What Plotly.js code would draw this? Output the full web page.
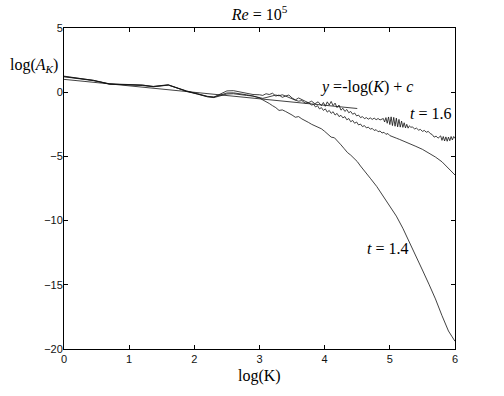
<!DOCTYPE html>
<html>
<head>
<meta charset="utf-8">
<script src="https://cdn.plot.ly/plotly-3.0.1.min.js"></script>
<style>html,body{margin:0;padding:0;background:#fff;}#chart{width:504px;height:396px;}</style>
</head>
<body>
<div id="chart"></div>
<script>
// reference line y = -log(K) + c
const refX = [0, 4.5];
const refY = [1.0, -1.27];

// t = 1.4 curve
const t14X = [0,0.2,0.45,0.7,0.9,1.06,1.2,1.37,1.5,1.6,1.75,1.88,2.05,2.2,2.3,2.4,2.5,2.6,2.7,2.8,2.9,
  3.0,3.05,3.1,3.15,3.2,3.25,3.3,3.35,3.4,3.45,3.5,3.55,3.6,3.65,3.7,3.75,3.8,3.85,3.9,3.95,
  4.0,4.05,4.1,4.15,4.2,4.25,4.3,4.35,4.4,4.45,4.5,4.55,4.6,4.65,4.7,4.8,4.9,
  5.0,5.1,5.2,5.3,5.4,5.5,5.6,5.7,5.8,5.9,5.95,6.0];
const t14Y = [1.2,1.08,0.9,0.64,0.6,0.58,0.52,0.42,0.48,0.55,0.3,0.06,-0.15,-0.36,-0.42,-0.28,-0.14,-0.12,-0.16,-0.25,-0.3,
  -0.45,-0.6,-0.72,-0.88,-1.05,-1.2,-1.42,-1.38,-1.5,-1.62,-1.78,-1.95,-1.9,-2.08,-2.25,-2.35,-2.5,-2.6,-2.72,-2.85,
  -3.05,-3.25,-3.5,-3.55,-3.8,-4.1,-4.4,-4.7,-4.9,-5.15,-5.4,-5.75,-6.05,-6.35,-6.7,-7.35,-8.1,
  -8.8,-9.65,-10.6,-11.65,-12.75,-13.85,-14.95,-16.1,-17.4,-18.6,-19.0,-19.4];

// intermediate curve (unlabelled)
const t15X = [0,0.2,0.45,0.7,0.9,1.06,1.2,1.37,1.5,1.6,1.75,1.88,2.05,2.2,2.3,2.4,2.5,2.6,2.7,2.8,2.9,
  3.0,3.05,3.1,3.15,3.2,3.25,3.3,3.35,3.4,3.45,3.5,3.55,3.6,3.65,3.7,3.75,3.8,3.83,3.86,3.89,3.92,3.95,3.98,
  4.01,4.04,4.07,4.1,4.13,4.16,4.19,4.22,4.25,4.28,4.31,4.34,4.37,4.4,4.43,4.46,4.49,4.52,4.55,4.58,4.61,4.64,
  4.67,4.7,4.73,4.76,4.79,4.82,4.85,4.88,4.91,4.94,4.97,5.0,5.05,5.1,5.15,5.2,5.3,5.4,5.5,5.6,5.7,5.8,5.9,6.0];
const t15Y = [1.25,1.1,0.92,0.62,0.6,0.62,0.55,0.45,0.5,0.58,0.32,0.1,-0.12,-0.32,-0.38,-0.2,-0.06,-0.05,-0.1,-0.2,-0.3,
  -0.4,-0.48,-0.42,-0.35,-0.3,-0.22,-0.28,-0.2,-0.3,-0.42,-0.5,-0.62,-0.7,-0.65,-0.85,-0.8,-1.0,-0.95,-1.15,-1.05,-1.3,-1.2,-1.42,
  -1.3,-1.55,-1.42,-1.65,-1.52,-1.78,-1.65,-1.9,-1.8,-2.0,-1.9,-2.15,-2.05,-2.3,-2.2,-2.42,-2.32,-2.55,-2.48,-2.68,-2.6,-2.78,
  -2.72,-2.88,-2.82,-2.98,-2.92,-3.08,-3.02,-3.18,-3.12,-3.28,-3.22,-3.38,-3.45,-3.58,-3.68,-3.8,-4.0,-4.22,-4.45,-4.72,-5.05,-5.42,-5.9,-6.45];

// t = 1.6 curve
const t16X = [0,0.2,0.45,0.7,0.9,1.06,1.2,1.37,1.5,1.6,1.75,1.88,2.05,2.2,2.3,2.4,2.5,2.6,2.7,2.8,2.9,
  3.0,3.05,3.1,3.15,3.2,3.25,3.3,3.35,3.4,3.45,3.5,3.55,3.6,3.65,3.7,3.75,3.8,3.85,3.9,3.95,3.98,
  4.01,4.04,4.07,4.1,4.13,4.16,4.19,4.22,4.25,4.28,4.31,4.34,4.37,4.4,4.43,4.46,4.49,4.52,4.55,4.58,4.61,4.64,
  4.67,4.7,4.73,4.76,4.79,4.82,4.85,4.88,
  4.90,4.92,4.94,4.96,4.98,5.00,5.02,5.04,5.06,5.08,5.10,5.12,5.14,5.16,5.18,5.20,5.22,5.24,5.26,5.28,5.30,5.32,
  5.35,5.38,5.41,5.44,5.47,5.50,5.53,5.56,5.59,5.62,5.65,5.68,5.71,5.74,5.76,
  5.78,5.80,5.82,5.84,5.86,5.88,5.90,5.92,5.94,5.96,5.98,6.00];
const t16Y = [1.22,1.1,0.93,0.65,0.62,0.6,0.56,0.44,0.5,0.56,0.3,0.08,-0.14,-0.34,-0.38,-0.15,0.1,0.12,0.02,-0.1,-0.18,
  -0.2,-0.25,-0.12,-0.18,-0.08,-0.3,-0.22,-0.4,-0.3,-0.22,-0.45,-0.6,-0.45,-0.55,-0.7,-0.82,-0.7,-0.9,-0.75,-1.05,-0.8,
  -1.1,-0.75,-1.0,-0.72,-1.05,-0.85,-1.2,-1.0,-1.4,-1.25,-1.5,-1.35,-1.6,-1.5,-1.72,-1.62,-1.85,-1.78,-1.98,-1.9,-2.06,-1.98,
  -2.1,-2.0,-2.12,-2.02,-2.14,-2.05,-2.16,-2.08,
  -2.05,-2.32,-1.98,-2.42,-1.93,-2.52,-1.92,-2.6,-1.96,-2.65,-2.02,-2.7,-2.12,-2.72,-2.25,-2.74,-2.38,-2.78,-2.5,-2.8,-2.62,-2.72,
  -2.72,-2.86,-2.8,-2.95,-2.9,-3.05,-2.98,-3.12,-3.05,-3.22,-3.3,-3.5,-3.42,-3.58,-3.5,
  -3.4,-3.75,-3.45,-3.8,-3.48,-3.82,-3.5,-3.78,-3.45,-3.72,-3.45,-3.6];

const xTicks = [0,1,2,3,4,5,6];
const yTicks = [5,0,-5,-10,-15,-20];

const serif = 'Liberation Serif, DejaVu Serif, serif';
const lineStyle = {color:'#111', width:0.8};

const traces = [
  {x: refX, y: refY, mode:'lines', line: lineStyle, hoverinfo:'skip'},
  {x: t14X, y: t14Y, mode:'lines', line: lineStyle, hoverinfo:'skip'},
  {x: t15X, y: t15Y, mode:'lines', line: lineStyle, hoverinfo:'skip'},
  {x: t16X, y: t16Y, mode:'lines', line: lineStyle, hoverinfo:'skip'}
];

const axisCommon = {
  showline:true, linecolor:'#000', linewidth:1, mirror:'ticks',
  ticks:'inside', ticklen:4, tickcolor:'#000', tickwidth:1,
  showgrid:false, zeroline:false,
  tickfont:{family:'Liberation Sans, Arial, sans-serif', size:11, color:'#111'}
};

const layout = {
  width:504, height:396,
  margin:{l:64, r:49, t:28, b:47},
  paper_bgcolor:'#fff', plot_bgcolor:'#fff',
  showlegend:false,
  title:{text:'<i>Re</i> = 10<sup>5</sup>', x:0.5, xref:'paper', xanchor:'center', y:1-14/396, yanchor:'middle',
    font:{family:serif, size:16, color:'#000'}},
  xaxis: Object.assign({}, axisCommon, {range:[0,6], tickvals:xTicks}),
  yaxis: Object.assign({}, axisCommon, {range:[-20,5], tickvals:yTicks, ticklabelstandoff:-2}),
  annotations:[
    {text:'log(K)', xref:'paper', yref:'paper', x:0.5, y:-(376-349)/321, xanchor:'center', yanchor:'middle', showarrow:false,
      font:{family:serif, size:16, color:'#000'}},
    {text:'log(<i>A</i><sub><i>K</i></sub>)', xref:'paper', yref:'paper', x:(34-64)/391, y:(349-65)/321, xanchor:'center', yanchor:'middle', showarrow:false,
      font:{family:serif, size:16, color:'#000'}},
    {text:'<i>y</i> =-log(<i>K</i>) + <i>c</i>', xref:'x', yref:'y', x:4.64, y:0.4, xanchor:'center', yanchor:'middle', showarrow:false,
      font:{family:serif, size:16, color:'#000'}},
    {text:'<i>t</i> = 1.6', xref:'x', yref:'y', x:5.63, y:-1.65, xanchor:'center', yanchor:'middle', showarrow:false,
      font:{family:serif, size:16, color:'#000'}},
    {text:'<i>t</i> = 1.4', xref:'x', yref:'y', x:4.96, y:-12.16, xanchor:'center', yanchor:'middle', showarrow:false,
      font:{family:serif, size:16, color:'#000'}}
  ]
};

Plotly.newPlot('chart', traces, layout, {staticPlot:true, displayModeBar:false});
</script>
</body>
</html>
